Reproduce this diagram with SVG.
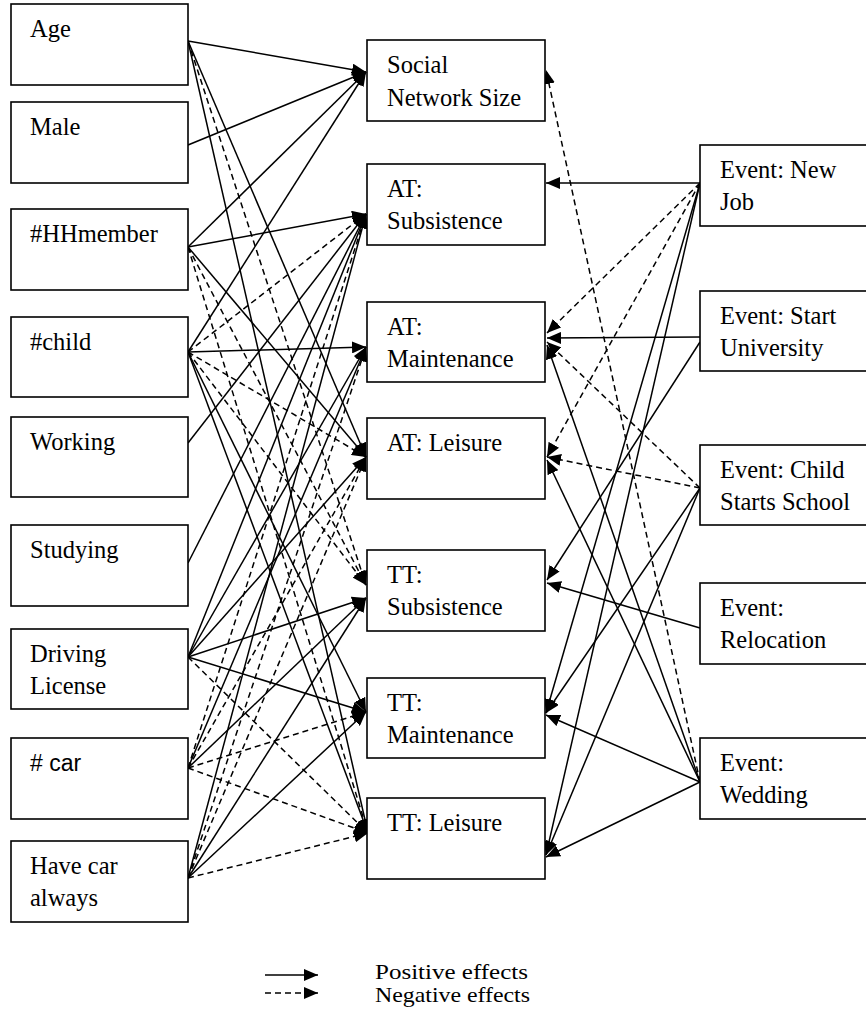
<svg xmlns="http://www.w3.org/2000/svg" width="866" height="1015" viewBox="0 0 866 1015">
<style>
.box{fill:#fff;stroke:#000;stroke-width:1.6}
.t{font-family:"Liberation Serif","Times New Roman",serif;font-size:24.5px;fill:#000}
.lg{font-family:"Liberation Serif","Times New Roman",serif;font-size:21px;fill:#000}
.ts{font-family:"Liberation Sans",Arial,sans-serif;font-size:23px;fill:#000}
.p{stroke:#000;stroke-width:1.5;fill:none;marker-end:url(#ah)}
.n{stroke:#000;stroke-width:1.5;fill:none;stroke-dasharray:6 4;marker-end:url(#ah)}
</style>
<defs>
<marker id="ah" markerUnits="userSpaceOnUse" markerWidth="14" markerHeight="12" refX="14" refY="6" orient="auto">
<path d="M0,0 L14,6 L0,12 z" fill="#000"/>
</marker>
</defs>
<rect width="866" height="1015" fill="#fff"/>

<g id="connectors">
<!-- left side -->
<line class="p" x1="188" y1="41" x2="366" y2="72"/>
<line class="p" x1="188" y1="41" x2="366" y2="457"/>
<line class="n" x1="188" y1="41" x2="366" y2="585"/>
<line class="p" x1="188" y1="41" x2="368" y2="833"/>
<line class="p" x1="188" y1="145" x2="366" y2="72"/>
<line class="p" x1="188" y1="247" x2="366" y2="72"/>
<line class="p" x1="188" y1="247" x2="366" y2="214"/>
<line class="p" x1="188" y1="247" x2="366" y2="457"/>
<line class="n" x1="188" y1="247" x2="366" y2="585"/>
<line class="n" x1="188" y1="247" x2="368" y2="833"/>
<line class="p" x1="188" y1="352" x2="366" y2="72"/>
<line class="n" x1="188" y1="352" x2="366" y2="214"/>
<line class="p" x1="188" y1="352" x2="366" y2="347"/>
<line class="n" x1="188" y1="352" x2="366" y2="457"/>
<line class="n" x1="188" y1="352" x2="366" y2="585"/>
<line class="p" x1="188" y1="352" x2="366" y2="712"/>
<line class="p" x1="188" y1="352" x2="368" y2="833"/>
<line class="p" x1="188" y1="443" x2="366" y2="214"/>
<line class="p" x1="188" y1="563" x2="366" y2="214"/>
<line class="p" x1="188" y1="657" x2="366" y2="214"/>
<line class="p" x1="188" y1="657" x2="366" y2="347"/>
<line class="p" x1="188" y1="657" x2="366" y2="457"/>
<line class="p" x1="188" y1="657" x2="366" y2="598"/>
<line class="p" x1="188" y1="657" x2="366" y2="712"/>
<line class="n" x1="188" y1="657" x2="368" y2="833"/>
<line class="n" x1="188" y1="768" x2="366" y2="214"/>
<line class="p" x1="188" y1="768" x2="366" y2="347"/>
<line class="n" x1="188" y1="768" x2="366" y2="457"/>
<line class="p" x1="188" y1="768" x2="366" y2="598"/>
<line class="n" x1="188" y1="768" x2="366" y2="712"/>
<line class="n" x1="188" y1="768" x2="368" y2="833"/>
<line class="p" x1="188" y1="878" x2="366" y2="214"/>
<line class="n" x1="188" y1="878" x2="366" y2="347"/>
<line class="n" x1="188" y1="878" x2="366" y2="457"/>
<line class="p" x1="188" y1="878" x2="366" y2="598"/>
<line class="p" x1="188" y1="878" x2="366" y2="712"/>
<line class="n" x1="188" y1="878" x2="368" y2="833"/>
<!-- right side -->
<line class="p" x1="700" y1="183" x2="546" y2="183"/>
<line class="n" x1="700" y1="183" x2="547" y2="333"/>
<line class="n" x1="700" y1="183" x2="547" y2="457"/>
<line class="p" x1="700" y1="183" x2="546" y2="713"/>
<line class="p" x1="700" y1="183" x2="546" y2="855"/>
<line class="p" x1="700" y1="337" x2="547" y2="338"/>
<line class="p" x1="700" y1="342" x2="547" y2="580"/>
<line class="n" x1="700" y1="488" x2="547" y2="342"/>
<line class="n" x1="700" y1="488" x2="547" y2="457"/>
<line class="p" x1="700" y1="488" x2="546" y2="713"/>
<line class="p" x1="700" y1="488" x2="546" y2="855"/>
<line class="p" x1="700" y1="628" x2="547" y2="583"/>
<line class="n" x1="700" y1="782" x2="546" y2="70"/>
<line class="p" x1="700" y1="782" x2="547" y2="345"/>
<line class="p" x1="700" y1="782" x2="547" y2="460"/>
<line class="p" x1="700" y1="782" x2="546" y2="715"/>
<line class="p" x1="700" y1="782" x2="546" y2="857"/>
</g>

<g id="age"><rect class="box" x="11" y="4" width="177" height="81"/><text class="t" x="30" y="37">Age</text></g>
<g id="male"><rect class="box" x="11" y="102" width="177" height="81"/><text class="t" x="30" y="135">Male</text></g>
<g id="hhmember"><rect class="box" x="11" y="209" width="177" height="81"/><text class="t" x="30" y="242">#HHmember</text></g>
<g id="child"><rect class="box" x="11" y="317" width="177" height="80"/><text class="t" x="30" y="350">#child</text></g>
<g id="working"><rect class="box" x="11" y="417" width="177" height="80"/><text class="t" x="30" y="450">Working</text></g>
<g id="studying"><rect class="box" x="11" y="525" width="177" height="81"/><text class="t" x="30" y="558">Studying</text></g>
<g id="driving"><rect class="box" x="11" y="629" width="177" height="80"/><text class="t" x="30" y="662">Driving</text><text class="t" x="30" y="694">License</text></g>
<g id="car"><rect class="box" x="11" y="738" width="177" height="81"/><text class="ts" x="30" y="771"># car</text></g>
<g id="havecar"><rect class="box" x="11" y="841" width="177" height="81"/><text class="t" x="30" y="874">Have car</text><text class="t" x="30" y="906">always</text></g>

<g id="sns"><rect class="box" x="367" y="40" width="178" height="81"/><text class="t" x="387" y="73">Social</text><text class="t" x="387" y="106">Network Size</text></g>
<g id="at_sub"><rect class="box" x="367" y="164" width="178" height="81"/><text class="t" x="387" y="197">AT:</text><text class="t" x="387" y="229">Subsistence</text></g>
<g id="at_main"><rect class="box" x="367" y="302" width="178" height="80"/><text class="t" x="387" y="335">AT:</text><text class="t" x="387" y="367">Maintenance</text></g>
<g id="at_leis"><rect class="box" x="367" y="418" width="178" height="81"/><text class="t" x="387" y="451">AT: Leisure</text></g>
<g id="tt_sub"><rect class="box" x="367" y="550" width="178" height="81"/><text class="t" x="387" y="583">TT:</text><text class="t" x="387" y="615">Subsistence</text></g>
<g id="tt_main"><rect class="box" x="367" y="678" width="178" height="80"/><text class="t" x="387" y="711">TT:</text><text class="t" x="387" y="743">Maintenance</text></g>
<g id="tt_leis"><rect class="box" x="367" y="798" width="178" height="81"/><text class="t" x="387" y="831">TT: Leisure</text></g>

<g id="ev_job"><rect class="box" x="700" y="145" width="172" height="81"/><text class="t" x="720" y="178">Event: New</text><text class="t" x="720" y="210">Job</text></g>
<g id="ev_uni"><rect class="box" x="700" y="291" width="172" height="80"/><text class="t" x="720" y="324">Event: Start</text><text class="t" x="720" y="356">University</text></g>
<g id="ev_school"><rect class="box" x="700" y="445" width="172" height="80"/><text class="t" x="720" y="478">Event: Child</text><text class="t" x="720" y="510">Starts School</text></g>
<g id="ev_reloc"><rect class="box" x="700" y="583" width="172" height="81"/><text class="t" x="720" y="616">Event:</text><text class="t" x="720" y="648">Relocation</text></g>
<g id="ev_wed"><rect class="box" x="700" y="738" width="172" height="81"/><text class="t" x="720" y="771">Event:</text><text class="t" x="720" y="803">Wedding</text></g>

<g id="legend">
<line class="p" x1="265" y1="975" x2="318" y2="975"/>
<line class="n" x1="265" y1="993" x2="318" y2="993"/>
<text class="lg" x="375" y="979" textLength="153" lengthAdjust="spacingAndGlyphs">Positive effects</text>
<text class="lg" x="375" y="1002" textLength="155" lengthAdjust="spacingAndGlyphs">Negative effects</text>
</g>
</svg>
